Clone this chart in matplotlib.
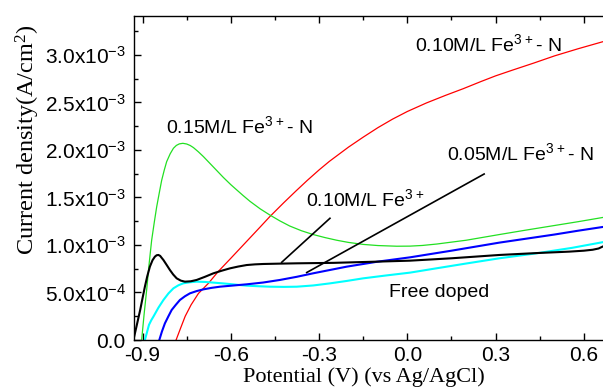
import numpy as np
import matplotlib
matplotlib.use('Agg')
import matplotlib.pyplot as plt
from matplotlib.ticker import MultipleLocator, FixedLocator

plt.rcParams['font.family'] = ['Liberation Sans', 'DejaVu Sans']
plt.rcParams['mathtext.default'] = 'regular'

# Current density values in units of 1e-3 A/cm2, potential in V
red_x = [-0.786, -0.770, -0.755, -0.735, -0.710, -0.676, -0.643, -0.600, -0.550,
         -0.500, -0.467, -0.420, -0.378, -0.340, -0.300, -0.265, -0.200, -0.150,
         -0.100, -0.050, 0.000, 0.065, 0.130, 0.190, 0.250, 0.300, 0.357,
         0.430, 0.500, 0.580, 0.665]
red_y = [0.00, 0.13, 0.25, 0.37, 0.49, 0.597, 0.72, 0.86, 1.025,
         1.19, 1.30, 1.445, 1.57, 1.68, 1.79, 1.88, 2.03, 2.135,
         2.235, 2.325, 2.405, 2.495, 2.575, 2.645, 2.72, 2.78, 2.84,
         2.915, 2.99, 3.065, 3.14]

green_x = [-0.903, -0.895, -0.886, -0.878, -0.869, -0.860, -0.852, -0.843, -0.835,
           -0.826, -0.818, -0.806, -0.795, -0.785, -0.775, -0.763, -0.750, -0.738,
           -0.727, -0.710, -0.693, -0.676, -0.659, -0.642, -0.625, -0.600, -0.580,
           -0.558, -0.535, -0.500, -0.467, -0.434, -0.400, -0.360, -0.320, -0.280,
           -0.240, -0.200, -0.150, -0.100, -0.036, 0.009, 0.051, 0.100, 0.200,
           0.313, 0.400, 0.500, 0.580, 0.665]
green_y = [0.00, 0.26, 0.526, 0.79, 1.05, 1.24, 1.40, 1.55, 1.68,
           1.79, 1.877, 1.96, 2.018, 2.048, 2.064, 2.07, 2.063, 2.047,
           2.025, 1.98, 1.93, 1.875, 1.82, 1.765, 1.71, 1.635, 1.58,
           1.52, 1.46, 1.38, 1.315, 1.255, 1.20, 1.15, 1.11, 1.078,
           1.05, 1.027, 1.006, 0.994, 0.987, 0.988, 0.995, 1.01, 1.05,
           1.11, 1.155, 1.205, 1.245, 1.29]

black_x = [-0.931, -0.920, -0.908, -0.900, -0.892, -0.884, -0.875, -0.866, -0.858,
           -0.852, -0.846, -0.840, -0.835, -0.829, -0.818, -0.807, -0.796, -0.784,
           -0.770, -0.756, -0.736, -0.716, -0.688, -0.659, -0.630, -0.603, -0.575,
           -0.546, -0.518, -0.490, -0.430, -0.376, -0.250, -0.100, 0.009, 0.150,
           0.313, 0.440, 0.550, 0.600, 0.630, 0.650, 0.665]
black_y = [0.00, 0.15, 0.316, 0.44, 0.561, 0.67, 0.772, 0.84, 0.877,
           0.892, 0.895, 0.885, 0.865, 0.842, 0.79, 0.737, 0.69, 0.649,
           0.625, 0.614, 0.618, 0.632, 0.665, 0.702, 0.73, 0.754, 0.773,
           0.789, 0.796, 0.80, 0.804, 0.807, 0.812, 0.825, 0.835, 0.86,
           0.895, 0.915, 0.93, 0.94, 0.95, 0.963, 0.985]

cyan_x = [-0.892, -0.885, -0.878, -0.870, -0.863, -0.846, -0.829, -0.812, -0.795,
          -0.778, -0.761, -0.738, -0.716, -0.688, -0.659, -0.631, -0.603, -0.575,
          -0.546, -0.507, -0.467, -0.420, -0.376, -0.320, -0.263, -0.205, -0.150,
          -0.070, 0.009, 0.100, 0.200, 0.313, 0.438, 0.560, 0.665]
cyan_y = [0.00, 0.08, 0.16, 0.21, 0.246, 0.34, 0.421, 0.49, 0.544,
          0.576, 0.597, 0.608, 0.614, 0.611, 0.604, 0.597, 0.589, 0.58,
          0.572, 0.566, 0.561, 0.559, 0.561, 0.574, 0.596, 0.622, 0.649,
          0.68, 0.709, 0.755, 0.805, 0.86, 0.912, 0.97, 1.03]

blue_x = [-0.843, -0.834, -0.824, -0.812, -0.801, -0.787, -0.773, -0.756, -0.739,
          -0.716, -0.693, -0.665, -0.637, -0.590, -0.546, -0.490, -0.433, -0.376,
          -0.320, -0.263, -0.206, -0.100, 0.009, 0.150, 0.313, 0.500, 0.580,
          0.665]
blue_y = [0.00, 0.09, 0.175, 0.25, 0.316, 0.37, 0.421, 0.46, 0.491,
          0.515, 0.533, 0.549, 0.561, 0.574, 0.586, 0.605, 0.632, 0.665,
          0.702, 0.737, 0.772, 0.825, 0.87, 0.94, 1.025, 1.11, 1.15,
          1.19]

y_ticks = [0.0, 0.5, 1.0, 1.5, 2.0, 2.5, 3.0]
y_tick_labels = ['0.0', '5.0x10$^{-4}$', '1.0x10$^{-3}$', '1.5x10$^{-3}$',
                 '2.0x10$^{-3}$', '2.5x10$^{-3}$', '3.0x10$^{-3}$']
x_ticks = [-0.9, -0.6, -0.3, 0.0, 0.3, 0.6]
x_tick_labels = ['-0.9', '-0.6', '-0.3', '0.0', '0.3', '0.6']

fig = plt.figure(figsize=(6.03, 3.9), dpi=100)
ax = fig.add_axes([134 / 603, 1 - 340 / 390, 1 - 134 / 603, (340 - 16) / 390])

s = 1e-3
ax.plot(red_x, np.array(red_y) * s, color='#ff0000', lw=0.9)
ax.plot(green_x, np.array(green_y) * s, color='#22e022', lw=0.9)
ax.plot(cyan_x, np.array(cyan_y) * s, color='#00ffff', lw=1.5)
ax.plot(blue_x, np.array(blue_y) * s, color='#0000ff', lw=1.5)
ax.plot(black_x, np.array(black_y) * s, color='black', lw=1.5)

# pointer lines for the labels
ax.plot([-0.427, -0.263], [0.818 * s, 1.281 * s], color='black', lw=1.2)
ax.plot([-0.342, 0.261], [0.71 * s, 1.747 * s], color='black', lw=1.2)

fs = 14
ax.text(0.026, 3.04 * s, '0.10M/L Fe$^{3+}$- N', fontsize=fs, va='baseline')
ax.text(-0.82, 2.18 * s, '0.15M/L Fe$^{3+}$- N', fontsize=fs, va='baseline')
ax.text(-0.345, 1.408 * s, '0.10M/L Fe$^{3+}$', fontsize=fs, va='baseline')
ax.text(0.136, 1.893 * s, '0.05M/L Fe$^{3+}$- N', fontsize=fs, va='baseline')
ax.text(-0.064, 0.45 * s, 'Free doped', fontsize=fs, va='baseline')

ax.set_xlim(-0.929, 0.665)
ax.set_ylim(0, 3.41e-3)

tfs = 15
ax.xaxis.set_major_locator(FixedLocator(x_ticks))
ax.set_xticklabels(x_tick_labels, fontsize=tfs)
ax.xaxis.set_minor_locator(MultipleLocator(0.15))
ax.yaxis.set_major_locator(FixedLocator([v * s for v in y_ticks]))
ax.set_yticklabels(y_tick_labels, fontsize=tfs)
ax.yaxis.set_minor_locator(MultipleLocator(0.25e-3))

ax.tick_params(which='both', direction='in', top=True, right=False, width=1)
ax.tick_params(which='major', length=5)
ax.tick_params(which='minor', length=3)
ax.tick_params(axis='y', pad=6)
ax.tick_params(axis='x', pad=4)
ax.spines['right'].set_visible(False)
for sp in ['left', 'bottom', 'top']:
    ax.spines[sp].set_linewidth(1.0)

ax.set_xlabel('Potential (V) (vs Ag/AgCl)', family='Liberation Serif', fontsize=16)
ax.xaxis.set_label_coords(0.49, -0.085)
ax.set_ylabel('Current density(A/cm$^2$)', family='Liberation Serif', fontsize=17.5)
ax.yaxis.set_label_coords(-0.196, 0.617)

fig.savefig('out.png', dpi=100)
